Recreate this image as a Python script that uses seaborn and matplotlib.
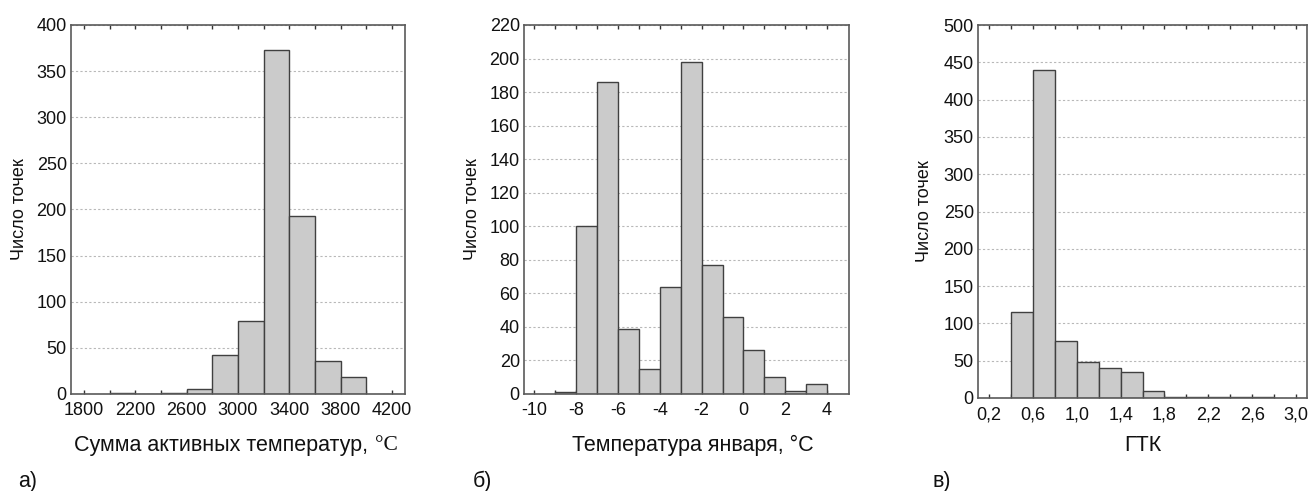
import numpy as np
import pandas as pd
import seaborn as sns
import matplotlib
matplotlib.use("Agg")
import matplotlib.pyplot as plt
from matplotlib.offsetbox import TextArea, HPacker, AnchoredOffsetbox

# ---- data: histogram bin edges and counts ----
sat_edges = [2000, 2200, 2400, 2600, 2800, 3000, 3200, 3400, 3600, 3800, 4000]
sat_counts = [1, 0, 1, 5, 42, 79, 373, 193, 36, 18]

jan_edges = [-9, -8, -7, -6, -5, -4, -3, -2, -1, 0, 1, 2, 3, 4]
jan_counts = [1, 100, 186, 39, 15, 64, 198, 77, 46, 26, 10, 2, 6]

gtk_edges = [0.4, 0.6, 0.8, 1.0, 1.2, 1.4, 1.6, 1.8, 2.0, 2.2, 2.4, 2.6, 2.8]
gtk_counts = [115, 440, 76, 48, 40, 35, 9, 2, 1, 2, 1, 2]

# ---- tick labels ----
sat_xticks = [1800, 2200, 2600, 3000, 3400, 3800, 4200]
sat_xlabels = ["1800", "2200", "2600", "3000", "3400", "3800", "4200"]
jan_xticks = [-10, -8, -6, -4, -2, 0, 2, 4]
jan_xlabels = ["-10", "-8", "-6", "-4", "-2", "0", "2", "4"]
gtk_xticks = [0.2, 0.6, 1.0, 1.4, 1.8, 2.2, 2.6, 3.0]
gtk_xlabels = ["0,2", "0,6", "1,0", "1,4", "1,8", "2,2", "2,6", "3,0"]

ylabel = "Число точек"
panel_tags = ["а)", "б)", "в)"]

sns.set_theme(style="white")
plt.rcParams["font.family"] = ["Liberation Sans", "DejaVu Sans"]

W, H = 1311, 491
fig = plt.figure(figsize=(W / 100, H / 100), dpi=100)


def axes_px(left, right, top, bottom):
    return fig.add_axes([left / W, 1 - bottom / H, (right - left) / W, (bottom - top) / H])


BAR_FACE = "#cbcbcb"
BAR_EDGE = "#404040"
FRAME = "#5a5a5a"
TEXT = "#111111"
TICK_FS = 13
YLAB_FS = 13
LABEL_FS = 15.5


def draw_hist(ax, edges, counts, xlim, ylim, ystep, xticks, xlabels, minor_step):
    e = [float(v) for v in edges]
    centers = [(a + b) / 2 for a, b in zip(e[:-1], e[1:])]
    df = pd.DataFrame({"x": centers, "n": counts})
    sns.histplot(data=df, x="x", weights="n", bins=e, stat="count",
                 color=BAR_FACE, edgecolor=BAR_EDGE, linewidth=1.0,
                 alpha=1.0, ax=ax)
    ax.set_xlim(*xlim)
    ax.set_ylim(*ylim)
    ax.set_yticks(np.arange(ylim[0], ylim[1] + ystep / 2, ystep))
    ax.set_xticks(xticks)
    ax.set_xticklabels(xlabels)
    minor = np.arange(xticks[0], xticks[-1] + minor_step / 2, minor_step)
    ax.set_xticks(minor, minor=True)
    ax.tick_params(axis="x", which="both", direction="in", top=True, bottom=True,
                   length=3, width=1, color="#333333", labelsize=TICK_FS, pad=6,
                   labelcolor=TEXT)
    ax.tick_params(axis="y", which="both", length=0, labelsize=TICK_FS, pad=3,
                   labelcolor=TEXT)
    ax.yaxis.grid(True, linestyle=(0, (2, 2)), color="#b8b8b8", linewidth=0.8)
    ax.xaxis.grid(False)
    ax.set_axisbelow(True)
    for sp in ax.spines.values():
        sp.set_visible(True)
        sp.set_color(FRAME)
        sp.set_linewidth(1.2)
    ax.set_xlabel("")
    ax.set_ylabel(ylabel, fontsize=YLAB_FS, color=TEXT)


ax_a = axes_px(71, 405, 25, 394)
ax_b = axes_px(524, 849, 25, 394)
ax_c = axes_px(978, 1307, 25, 398)

draw_hist(ax_a, sat_edges, sat_counts, (1700, 4300), (0, 400), 50,
          sat_xticks, sat_xlabels, 200)
draw_hist(ax_b, jan_edges, jan_counts, (-10.5, 5.05), (0, 220), 20,
          jan_xticks, jan_xlabels, 1)
draw_hist(ax_c, gtk_edges, gtk_counts, (0.1, 3.1), (0, 500), 50,
          gtk_xticks, gtk_xlabels, 0.2)

# y-axis label positions (pixel offset from the left spine)
for ax, left, right, ylab_x in [(ax_a, 71, 405, 28), (ax_b, 524, 849, 481), (ax_c, 978, 1307, 933)]:
    ax.yaxis.set_label_coords((ylab_x - left) / (right - left), 0.5)

# x-axis label of panel a: sans text with a serif degree sign
label_a = HPacker(children=[
    TextArea("Сумма активных температур,",
             textprops=dict(fontsize=LABEL_FS, family="Liberation Sans", color=TEXT)),
    TextArea("°C", textprops=dict(fontsize=LABEL_FS, family="Liberation Serif", color=TEXT)),
], align="baseline", pad=0, sep=5)
box = AnchoredOffsetbox(loc="center", child=label_a, pad=0, frameon=False,
                        bbox_to_anchor=(236 / W, 1 - 445 / H),
                        bbox_transform=fig.transFigure, borderpad=0)
fig.add_artist(box)

fig.text(693 / W, 1 - 451 / H, "Температура января, °C", fontsize=LABEL_FS,
         ha="center", va="baseline", color=TEXT)
fig.text(1143 / W, 1 - 451 / H, "ГТК", fontsize=LABEL_FS,
         ha="center", va="baseline", color=TEXT)

for x, tag in zip([18, 473, 933], panel_tags):
    fig.text(x / W, 1 - 487 / H, tag, fontsize=LABEL_FS, ha="left", va="baseline",
             color=TEXT)

fig.savefig("out.png", dpi=100)
